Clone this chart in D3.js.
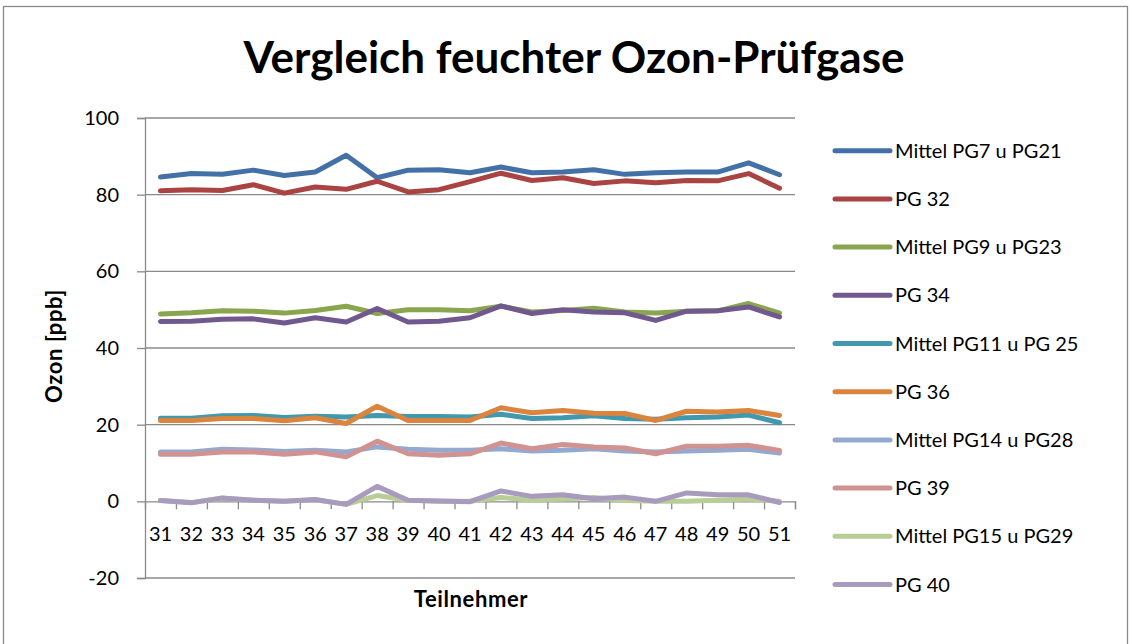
<!DOCTYPE html>
<html>
<head>
<meta charset="utf-8">
<script src="https://cdn.jsdelivr.net/npm/d3@7"></script>
<style>
  body { margin: 0; background: #fff; }
  svg { display: block; font-family: Lato, "Open Sans", sans-serif; }
</style>
</head>
<body>
<svg id="chart" width="1132" height="644"></svg>
<script>
// Teilnehmer (x categories)
const participants = ['31','32','33','34','35','36','37','38','39','40','41','42','43','44','45','46','47','48','49','50','51'];

const seriesNames = [
    'Mittel PG7 u PG21', 'PG 32', 'Mittel PG9 u PG23', 'PG 34', 'Mittel PG11 u PG 25',
    'PG 36', 'Mittel PG14 u PG28', 'PG 39', 'Mittel PG15 u PG29', 'PG 40'
];
const seriesColors = ['#4470a8', '#a94442', '#89a54e', '#71588f', '#4198af',
                      '#db843d', '#93a9cf', '#d19392', '#b9cd96', '#a99bbd'];

// Ozon [ppb]
const mittelPG7PG21  = [84.6, 85.5, 85.3, 86.4, 85.0, 85.9, 90.3, 84.4, 86.4, 86.5, 85.7, 87.2, 85.7, 85.9, 86.5, 85.3, 85.7, 85.9, 85.9, 88.3, 85.2];
const pg32           = [81.0, 81.3, 81.1, 82.6, 80.4, 82.0, 81.4, 83.5, 80.7, 81.3, 83.4, 85.6, 83.7, 84.4, 82.9, 83.6, 83.1, 83.7, 83.6, 85.5, 81.7];
const mittelPG9PG23  = [48.9, 49.2, 49.7, 49.6, 49.1, 49.8, 50.9, 49.0, 50.0, 50.0, 49.7, 50.9, 49.4, 49.8, 50.4, 49.4, 49.1, 49.6, 49.7, 51.6, 49.1];
const pg34           = [46.9, 47.0, 47.5, 47.6, 46.5, 47.9, 46.8, 50.3, 46.8, 47.0, 47.9, 51.0, 49.0, 50.0, 49.4, 49.2, 47.2, 49.6, 49.7, 50.7, 48.1];
const mittelPG11PG25 = [21.7, 21.7, 22.3, 22.4, 21.9, 22.2, 22.0, 22.4, 22.1, 22.1, 22.0, 22.7, 21.6, 21.8, 22.3, 21.6, 21.4, 21.8, 22.0, 22.5, 20.5];
const pg36           = [21.1, 21.1, 21.6, 21.6, 21.0, 21.8, 20.3, 24.8, 21.1, 21.1, 21.1, 24.4, 23.1, 23.7, 23.0, 22.9, 21.1, 23.5, 23.3, 23.7, 22.4];
const mittelPG14PG28 = [12.9, 12.9, 13.6, 13.4, 13.0, 13.3, 12.9, 14.2, 13.6, 13.3, 13.3, 13.7, 13.1, 13.3, 13.7, 13.1, 12.9, 13.1, 13.3, 13.6, 12.6];
const pg39           = [12.3, 12.3, 12.9, 12.9, 12.3, 12.9, 11.6, 15.7, 12.4, 12.0, 12.4, 15.2, 13.7, 14.8, 14.2, 13.9, 12.4, 14.4, 14.4, 14.6, 13.3];
const mittelPG15PG29 = [0.2, -0.3, 0.8, 0.3, 0.0, 0.4, -0.8, 1.5, 0.3, 0.0, 0.0, 1.0, 0.3, 0.6, 1.0, 0.2, 0.0, 0.0, 0.3, 0.6, 0.0];
const pg40           = [0.2, -0.4, 0.9, 0.3, 0.0, 0.5, -0.8, 3.9, 0.3, 0.1, -0.1, 2.7, 1.3, 1.7, 0.7, 1.1, 0.0, 2.2, 1.7, 1.7, -0.3];

const seriesValues = [mittelPG7PG21, pg32, mittelPG9PG23, pg34, mittelPG11PG25,
                      pg36, mittelPG14PG28, pg39, mittelPG15PG29, pg40];

const yTicks = [-20, 0, 20, 40, 60, 80, 100];

const series = seriesNames.map((name, i) => ({
    name: name,
    color: seriesColors[i],
    values: seriesValues[i]
}));

const svg = d3.select('#chart');
const gridColor = '#8a8a8a';

// outer chart frame
svg.append('rect')
    .attr('x', 3.5).attr('y', 6.5)
    .attr('width', 1124).attr('height', 640)
    .attr('fill', 'none')
    .attr('stroke', gridColor)
    .attr('stroke-width', 1.3);

const plot = { left: 145, right: 795, top: 118, bottom: 578 };

const x = d3.scaleBand()
    .domain(participants)
    .range([plot.left, plot.right]);

const y = d3.scaleLinear()
    .domain([-20, 100])
    .range([plot.bottom, plot.top]);

// title
svg.append('text')
    .attr('x', 574)
    .attr('y', 73)
    .attr('text-anchor', 'middle')
    .attr('font-size', 44)
    .attr('font-weight', 'bold')
    .text('Vergleich feuchter Ozon-Prüfgase');

// horizontal gridlines
svg.append('g')
    .selectAll('line')
    .data(yTicks.filter(t => t !== 0))
    .join('line')
    .attr('x1', plot.left).attr('x2', plot.right)
    .attr('y1', d => y(d)).attr('y2', d => y(d))
    .attr('stroke', gridColor)
    .attr('stroke-width', 1.3);

// y axis
const yAxis = svg.append('g')
    .attr('transform', `translate(${plot.left},0)`)
    .call(d3.axisLeft(y).tickValues(yTicks).tickSize(8).tickPadding(18).tickFormat(d => String(d)));
yAxis.select('.domain').attr('stroke', gridColor).attr('stroke-width', 1.3);
yAxis.selectAll('.tick line').attr('stroke', gridColor).attr('stroke-width', 1.3);
yAxis.selectAll('.tick text')
    .attr('font-size', 20)
    .attr('font-family', 'Lato, sans-serif')
    .attr('fill', '#000');

// x axis at y = 0: tick marks on category boundaries
const boundary = d3.scaleLinear()
    .domain([0, participants.length])
    .range([plot.left, plot.right]);

const xTickAxis = svg.append('g')
    .attr('transform', `translate(0,${y(0)})`)
    .call(d3.axisBottom(boundary)
        .tickValues(d3.range(1, participants.length + 1))
        .tickSize(8)
        .tickFormat(''));
xTickAxis.select('.domain').attr('stroke', gridColor).attr('stroke-width', 1.3);
xTickAxis.selectAll('.tick line').attr('stroke', gridColor).attr('stroke-width', 1.3);

const xAxis = svg.append('g')
    .attr('transform', `translate(0,${y(0)})`)
    .call(d3.axisBottom(x).tickSize(0).tickPadding(25));
xAxis.select('.domain').remove();
xAxis.selectAll('.tick text')
    .attr('font-size', 20)
    .attr('font-family', 'Lato, sans-serif')
    .attr('fill', '#000');

// axis titles
svg.append('text')
    .attr('x', 471)
    .attr('y', 607)
    .attr('text-anchor', 'middle')
    .attr('font-size', 22)
    .attr('font-weight', 'bold')
    .attr('letter-spacing', 0.6)
    .text('Teilnehmer');

svg.append('text')
    .attr('transform', `translate(62,${(plot.top + plot.bottom) / 2 - 2}) rotate(-90)`)
    .attr('text-anchor', 'middle')
    .attr('font-size', 22)
    .attr('font-weight', 'bold')
    .attr('letter-spacing', 0.6)
    .text('Ozon [ppb]');

// lines
const line = d3.line()
    .x((d, i) => x(participants[i]) + x.bandwidth() / 2)
    .y(d => y(d));

svg.append('g')
    .selectAll('path')
    .data(series)
    .join('path')
    .attr('d', d => line(d.values))
    .attr('fill', 'none')
    .attr('stroke', d => d.color)
    .attr('stroke-width', 5)
    .attr('stroke-linejoin', 'round')
    .attr('stroke-linecap', 'round');

// legend
const legend = svg.append('g')
    .selectAll('g')
    .data(series)
    .join('g')
    .attr('transform', (d, i) => `translate(835,${150.7 + i * 48.2})`);

legend.append('line')
    .attr('x1', 0).attr('x2', 55)
    .attr('stroke', d => d.color)
    .attr('stroke-width', 5)
    .attr('stroke-linecap', 'round');

legend.append('text')
    .attr('x', 60)
    .attr('dy', '0.35em')
    .attr('font-size', 20)
    .text(d => d.name);
</script>
</body>
</html>
